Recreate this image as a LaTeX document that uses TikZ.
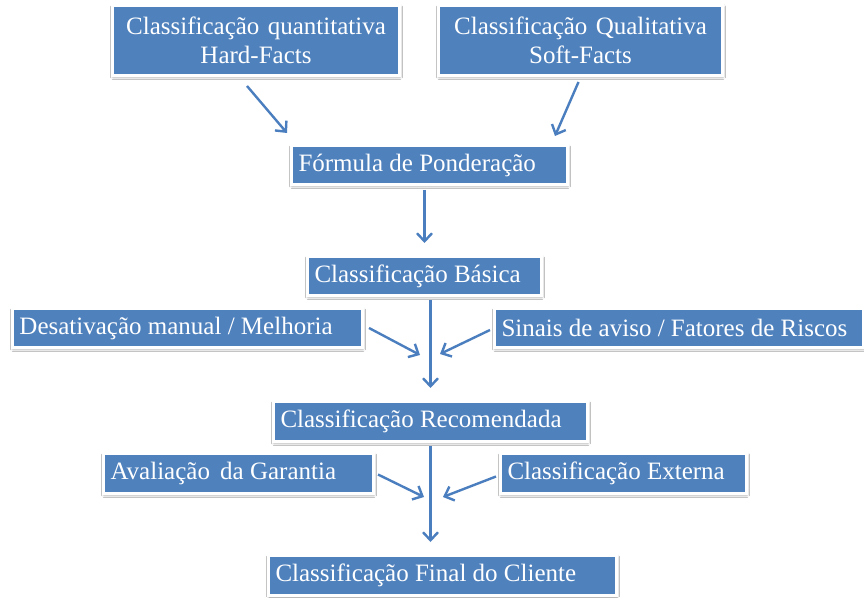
\documentclass[tikz,border=0pt]{standalone}
\usepackage{fontspec}
\setmainfont{Liberation Serif}
\usetikzlibrary{arrows.meta,calc,shadows.blur}
\definecolor{boxblue}{RGB}{79,129,189}
\definecolor{arrowblue}{RGB}{74,126,190}
\newcommand{\lefttext}[2]{\makebox[#1][l]{#2}}
\tikzset{
  x=1pt, y=1pt,
  box/.style={rectangle, fill=boxblue, draw=white, line width=3pt,
    text=white, font=\fontsize{25}{29}\selectfont,
    inner xsep=7pt, inner ysep=0pt, anchor=center,
    blur shadow={shadow xshift=0.5pt, shadow yshift=-1.5pt,
      shadow blur radius=2.5pt, shadow opacity=45}},
  arr/.style={draw=arrowblue, line width=2.4pt,
    -{Straight Barb[length=8pt,width=15pt]}}
}
\begin{document}
\begin{tikzpicture}
\useasboundingbox (0,0) rectangle (864,597);
\fill[white] (0,0) rectangle (864,597);

% top row: the two classifications
\node[box, align=center, text width=273pt, minimum height=70pt] (q) at (256,556.5)
  {Classificação quantitativa\\Hard-Facts};
\node[box, align=center, text width=270pt, minimum height=70pt] (ql) at (580.5,556.5)
  {Classificação Qualitativa\\Soft-Facts};

% weighting and basic rating
\node[box, minimum height=39pt] (f) at (429.5,432) {\lefttext{262pt}{Fórmula de Ponderação}};
\node[box, minimum height=39pt] (b) at (424.5,321) {\lefttext{220pt}{Classificação Básica}};

% adjustments
\node[box, minimum height=39pt] (d) at (187.5,269) {\lefttext{336pt}{Desativação manual / Melhoria}};
\node[box, minimum height=39pt] (s) at (679,269) {\lefttext{355pt}{Sinais de aviso / Fatores de Riscos}};

% recommended rating
\node[box, minimum height=40pt] (r) at (430.5,175.5) {\lefttext{300pt}{Classificação Recomendada}};

% final inputs
\node[box, minimum height=40pt] (a) at (238.5,123.5) {\lefttext{256pt}{Avaliação\hspace{4pt} da Garantia}};
\node[box, minimum height=40pt] (e) at (623.5,123.5) {\lefttext{232pt}{Classificação Externa}};

% final rating
\node[box, minimum height=40pt] (fin) at (442.5,21.5) {\lefttext{334pt}{Classificação Final do Cliente}};

% junction points on the vertical flow
\coordinate (j1) at (420,242);
\coordinate (j2) at (440,243);
\coordinate (j3) at (424,100);
\coordinate (j4) at (443,100);

% connectors
\draw[arr] ($(q.south)+(-9,-9)$) -- ($(f.north west)+(-3,11)$);
\draw[arr] ($(ql.south)+(-2,-5)$) -- ($(f.north east)+(-14,8)$);
\draw[arr, shorten <=4pt, shorten >=12pt] (f.south -| b.north) -- (b.north);
\draw[arr, shorten <=3pt, shorten >=12pt] (b.south -| r.north) -- (r.north);
\draw[arr] ($(d.east)+(5,0)$) -- (j1);
\draw[arr] ($(s.west)+(-3,-2)$) -- (j2);
\draw[arr, shorten <=3pt, shorten >=12pt] (r.south) -- (r.south |- fin.north);
\draw[arr] ($(a.east)+(3,-1)$) -- (j3);
\draw[arr] ($(e.west)+(-3,-3)$) -- (j4);
\end{tikzpicture}
\end{document}
